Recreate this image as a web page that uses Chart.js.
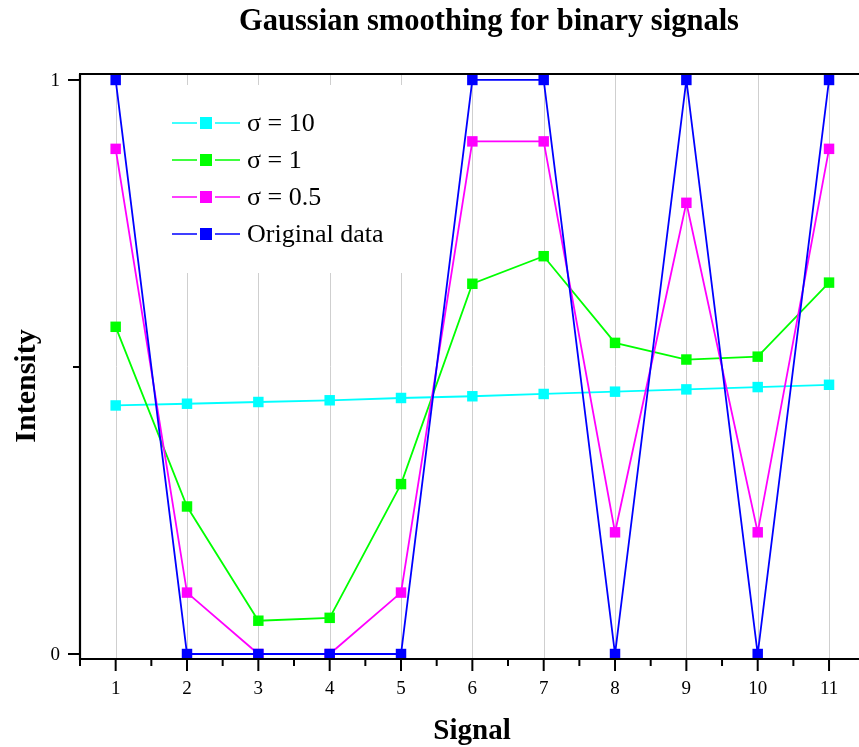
<!DOCTYPE html>
<html>
<head>
<meta charset="utf-8">
<title>Gaussian smoothing for binary signals</title>
<script src="https://cdn.jsdelivr.net/npm/chart.js@4/dist/chart.umd.min.js"></script>
<style>
  html,body{margin:0;padding:0;background:#fff;}
  #wrap{position:relative;width:859px;height:747px;}
</style>
</head>
<body>
<div id="wrap"><canvas id="chart" width="859" height="747"></canvas></div>
<script>
// data
const signalIdx = [1, 2, 3, 4, 5, 6, 7, 8, 9, 10, 11];
const sigma10   = [0.433, 0.436, 0.439, 0.442, 0.446, 0.449, 0.453, 0.457, 0.461, 0.465, 0.469];
const sigma1    = [0.570, 0.257, 0.058, 0.063, 0.296, 0.645, 0.693, 0.542, 0.513, 0.518, 0.647];
const sigma05   = [0.880, 0.107, 0.000, 0.000, 0.107, 0.893, 0.893, 0.212, 0.786, 0.212, 0.880];
const original  = [1, 0, 0, 0, 0, 1, 1, 0, 1, 0, 1];

const xMajorTicks = [1, 2, 3, 4, 5, 6, 7, 8, 9, 10, 11];
const xMinorTicks = [0.5, 1.5, 2.5, 3.5, 4.5, 5.5, 6.5, 7.5, 8.5, 9.5, 10.5];
const yMajorTicks = [0, 1];
const yMinorTicks = [0.5];

const seriesNames  = ['\u03c3 = 10', '\u03c3 = 1', '\u03c3 = 0.5', 'Original data'];
const seriesColors = ['#00ffff', '#00ff00', '#ff00ff', '#0000ff'];

const titleText = 'Gaussian smoothing for binary signals';
const xTitle = 'Signal';
const yTitle = 'Intensity';

(function(){
  const SERIF = '"Liberation Serif", "DejaVu Serif", serif';
  const pts = arr => arr.map((v,i)=>({x:signalIdx[i], y:v}));

  function mkSet(i, data, order){
    return { label:seriesNames[i], data:pts(data), order,
      borderColor:seriesColors[i], backgroundColor:seriesColors[i],
      borderWidth:1.8, pointStyle:'rect', pointRadius:7.4, pointHoverRadius:7.4,
      pointBorderWidth:0, tension:0, fill:false };
  }

  // legend box inside the plot (white box hides the grid behind it)
  const insideLegend = {
    id:'insideLegend',
    beforeDatasetsDraw(chart){
      const c = chart.ctx;
      c.save();
      c.fillStyle = '#fff';
      c.fillRect(140, 85, 310, 188);
      c.font = '26px ' + SERIF;
      c.textBaseline = 'middle';
      c.textAlign = 'left';
      seriesNames.forEach((name, i)=>{
        const y = 123 + i*37;
        c.strokeStyle = seriesColors[i]; c.lineWidth = 1.5;
        c.beginPath(); c.moveTo(172, y); c.lineTo(197, y); c.moveTo(215, y); c.lineTo(240, y); c.stroke();
        c.fillStyle = seriesColors[i];
        c.fillRect(200, y-6, 12, 12);
        c.fillStyle = '#000';
        c.fillText(name, 247, y+1);
      });
      c.restore();
    }
  };

  // grid, axes, ticks and titles drawn from the scales
  const frame = {
    id:'frame',
    beforeDatasetsDraw(chart){
      const c = chart.ctx, a = chart.chartArea, xs = chart.scales.x;
      c.save();
      c.strokeStyle = '#cfcfcf'; c.lineWidth = 1;
      xMajorTicks.forEach(v=>{
        const px = Math.round(xs.getPixelForValue(v)) + 0.5;
        c.beginPath(); c.moveTo(px, a.top); c.lineTo(px, a.bottom); c.stroke();
      });
      c.restore();
    },
    afterDraw(chart){
      const c = chart.ctx, a = chart.chartArea, xs = chart.scales.x, ys = chart.scales.y;
      c.save();
      c.strokeStyle = '#000'; c.fillStyle = '#000'; c.lineWidth = 2.2;
      // axis lines (left, bottom, top)
      c.beginPath();
      c.moveTo(a.left, a.top); c.lineTo(a.left, a.bottom+1);
      c.moveTo(a.left-1, a.bottom); c.lineTo(a.right, a.bottom);
      c.moveTo(a.left-1, a.top); c.lineTo(a.right, a.top);
      c.stroke();
      // x ticks
      c.lineWidth = 2;
      xMajorTicks.forEach(v=>{ const px=xs.getPixelForValue(v); c.beginPath(); c.moveTo(px,a.bottom); c.lineTo(px,a.bottom+12); c.stroke(); });
      xMinorTicks.forEach(v=>{ const px=xs.getPixelForValue(v); c.beginPath(); c.moveTo(px,a.bottom); c.lineTo(px,a.bottom+7); c.stroke(); });
      // y ticks
      yMajorTicks.forEach(v=>{ const py=ys.getPixelForValue(v); c.beginPath(); c.moveTo(a.left,py); c.lineTo(a.left-12,py); c.stroke(); });
      yMinorTicks.forEach(v=>{ const py=ys.getPixelForValue(v); c.beginPath(); c.moveTo(a.left,py); c.lineTo(a.left-7,py); c.stroke(); });
      // tick labels
      c.font = '19px ' + SERIF;
      c.textAlign = 'center'; c.textBaseline = 'middle';
      xMajorTicks.forEach(v=> c.fillText(String(v), xs.getPixelForValue(v), 689));
      c.textAlign = 'right';
      yMajorTicks.forEach(v=> c.fillText(String(v), 60, ys.getPixelForValue(v)+1));
      // titles
      c.textAlign = 'center';
      c.font = 'bold 30.5px ' + SERIF;
      c.fillText(titleText, 489, 22);
      c.font = 'bold 29px ' + SERIF;
      c.fillText(xTitle, 472, 732);
      c.font = 'bold 30px ' + SERIF;
      c.translate(27, 386); c.rotate(-Math.PI/2);
      c.fillText(yTitle, 0, 0);
      c.restore();
    }
  };

  new Chart(document.getElementById('chart').getContext('2d'), {
    type:'line',
    data:{ datasets:[
      mkSet(3, original, 0),
      mkSet(2, sigma05, 1),
      mkSet(1, sigma1, 2),
      mkSet(0, sigma10, 3)
    ]},
    options:{
      responsive:false, animation:false, events:[],
      layout:{ autoPadding:false, padding:{ left:80, top:74, right:0, bottom:88 } },
      plugins:{ legend:{display:false}, title:{display:false}, tooltip:{enabled:false} },
      scales:{
        x:{ type:'linear', display:false, min:0.5, max:11.42 },
        y:{ type:'linear', display:false, min:-0.0087, max:1.0104 }
      }
    },
    plugins:[frame, insideLegend]
  });
})();
</script>
</body>
</html>
